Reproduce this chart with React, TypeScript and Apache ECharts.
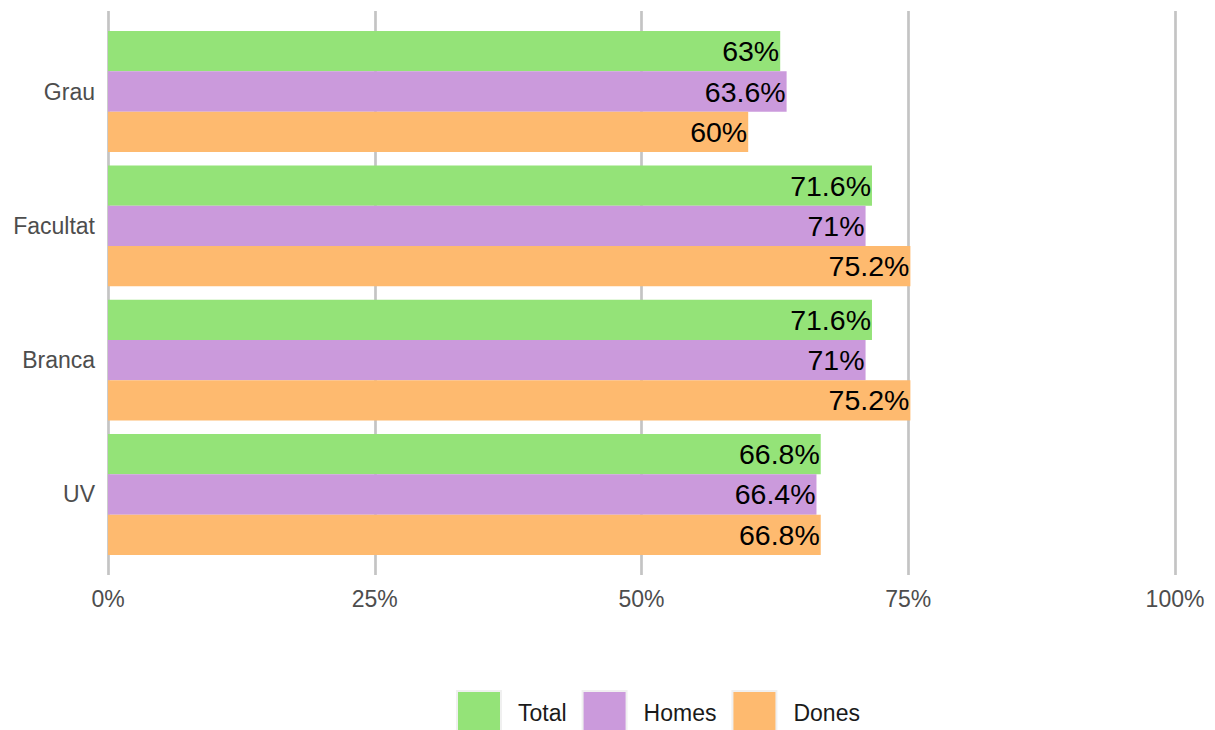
import React, { useEffect, useRef } from "react";
import * as echarts from "echarts";

const categories = ["Grau", "Facultat", "Branca", "UV"];
const seriesNames = ["Total", "Homes", "Dones"];
const totalValues = [63, 71.6, 71.6, 66.8];
const homesValues = [63.6, 71, 71, 66.4];
const donesValues = [60, 75.2, 75.2, 66.8];
const seriesColors = ["#94E378", "#CB9ADC", "#FEBA6F"];
const xMin = 0;
const xMax = 100;
const xInterval = 25;

const FONT = "'Liberation Sans', Arial, Helvetica, sans-serif";

export default function App() {
  const ref = useRef<HTMLDivElement>(null);

  useEffect(() => {
    if (!ref.current) return;
    const chart = echarts.init(ref.current, undefined, { renderer: "svg" });
    const values = [totalValues, homesValues, donesValues];

    const option: any = {
      animation: false,
      backgroundColor: "#ffffff",
      textStyle: { fontFamily: FONT },
      grid: [
        { left: 108, right: 40, top: 24.35, bottom: 168.35, containLabel: false },
        { left: 108, right: 40, top: 11, bottom: 155, containLabel: false },
      ],
      xAxis: [
        {
          gridIndex: 0,
          type: "value",
          min: xMin,
          max: xMax,
          interval: xInterval,
          show: false,
        },
        {
          gridIndex: 1,
          type: "value",
          min: xMin,
          max: xMax,
          interval: xInterval,
          axisLine: { show: false },
          axisTick: { show: false },
          splitLine: { show: true, lineStyle: { color: "#c4c4c4", width: 2.7 } },
          axisLabel: {
            formatter: "{value}%",
            color: "#4d4d4d",
            fontSize: 23,
            fontFamily: FONT,
            margin: 12,
          },
        },
      ],
      yAxis: [
        {
          gridIndex: 0,
          type: "category",
          data: categories,
          inverse: true,
          axisLine: { show: false },
          axisTick: { show: false },
          splitLine: { show: false },
          axisLabel: {
            color: "#4d4d4d",
            fontSize: 23,
            fontFamily: FONT,
            margin: 13,
          },
        },
        {
          gridIndex: 1,
          type: "value",
          min: 0,
          max: 1,
          show: false,
        },
      ],
      legend: {
        data: seriesNames,
        left: 456,
        top: 690,
        padding: 0,
        orient: "horizontal",
        icon: "rect",
        itemWidth: 44,
        itemHeight: 44,
        itemGap: 15,
        itemStyle: { borderColor: "#f0f0f0", borderWidth: 2 },
        textStyle: {
          color: "#1a1a1a",
          fontSize: 23,
          fontFamily: FONT,
          padding: [0, 0, 0, 12],
        },
        selectedMode: false,
      },
      series: seriesNames.map((name, i) => ({
        name,
        type: "bar",
        xAxisIndex: 0,
        yAxisIndex: 0,
        data: values[i],
        barGap: "0%",
        barCategoryGap: "10%",
        itemStyle: { color: seriesColors[i] },
        label: {
          show: true,
          position: "insideRight",
          distance: 1,
          color: "#000000",
          fontSize: 28.5,
          fontFamily: FONT,
          formatter: (p: any) => `${p.value}%`,
        },
      })),
    };

    chart.setOption(option);
    return () => chart.dispose();
  }, []);

  return (
    <div
      ref={ref}
      style={{ position: "fixed", left: 0, top: 0, width: 1215, height: 730 }}
    />
  );
}
